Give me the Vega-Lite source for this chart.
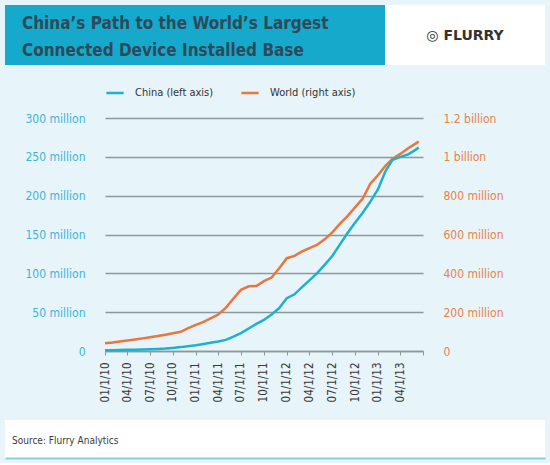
{
  "$schema": "https://vega.github.io/schema/vega-lite/v6.json",
  "background": "#e7f4f9",
  "padding": 5,
  "spacing": 18,
  "columns": 1,
  "resolve": {"legend": {"color": "independent"}},
  "config": {
    "font": "DejaVu Sans Condensed, Roboto, sans-serif",
    "view": {"stroke": null}
  },
  "concat": [
    {
      "spacing": 0,
      "hconcat": [
        {
          "width": 380,
          "height": 60,
          "view": {"fill": "#17a9cb", "stroke": null},
          "title": {
            "text": ["China’s Path to the World’s Largest", "Connected Device Installed Base"],
            "anchor": "start",
            "frame": "group",
            "orient": "top",
            "offset": -55,
            "dx": 17,
            "fontSize": 17,
            "lineHeight": 27,
            "fontWeight": "bold",
            "color": "#2c4a5a"
          },
          "data": {"values": []},
          "mark": "rule",
          "encoding": {}
        },
        {
          "width": 160,
          "height": 60,
          "view": {"fill": "#ffffff", "stroke": null},
          "title": {
            "text": "◎ FLURRY",
            "anchor": "middle",
            "frame": "group",
            "orient": "top",
            "offset": -38,
            "font": "DejaVu Sans",
            "fontSize": 14,
            "fontWeight": "bold",
            "color": "#333333"
          },
          "data": {"values": []},
          "mark": "rule",
          "encoding": {}
        }
      ]
    },
    {
      "spacing": 0,
      "resolve": {"legend": {"color": "independent"}},
      "hconcat": [
        {
          "width": 1,
          "height": 1,
          "data": {"values": []},
          "mark": "rule",
          "encoding": {}
        },
        {
          "width": 318,
          "height": 233,
          "data": {
            "values": [
              {"date": "2010-01-01", "series": "China (left axis)", "value": 1.0},
              {"date": "2010-02-01", "series": "China (left axis)", "value": 1.1},
              {"date": "2010-03-01", "series": "China (left axis)", "value": 1.3},
              {"date": "2010-04-01", "series": "China (left axis)", "value": 1.5},
              {"date": "2010-05-01", "series": "China (left axis)", "value": 1.7},
              {"date": "2010-06-01", "series": "China (left axis)", "value": 1.8},
              {"date": "2010-07-01", "series": "China (left axis)", "value": 2.1},
              {"date": "2010-08-01", "series": "China (left axis)", "value": 2.6},
              {"date": "2010-09-01", "series": "China (left axis)", "value": 3.2},
              {"date": "2010-10-01", "series": "China (left axis)", "value": 4.0},
              {"date": "2010-11-01", "series": "China (left axis)", "value": 5.0},
              {"date": "2010-12-01", "series": "China (left axis)", "value": 6.2},
              {"date": "2011-01-01", "series": "China (left axis)", "value": 7.4},
              {"date": "2011-02-01", "series": "China (left axis)", "value": 9.0},
              {"date": "2011-03-01", "series": "China (left axis)", "value": 10.6},
              {"date": "2011-04-01", "series": "China (left axis)", "value": 12.3},
              {"date": "2011-05-01", "series": "China (left axis)", "value": 14.3},
              {"date": "2011-06-01", "series": "China (left axis)", "value": 18.5},
              {"date": "2011-07-01", "series": "China (left axis)", "value": 23},
              {"date": "2011-08-01", "series": "China (left axis)", "value": 29},
              {"date": "2011-09-01", "series": "China (left axis)", "value": 35},
              {"date": "2011-10-01", "series": "China (left axis)", "value": 40},
              {"date": "2011-11-01", "series": "China (left axis)", "value": 47},
              {"date": "2011-12-01", "series": "China (left axis)", "value": 55},
              {"date": "2012-01-01", "series": "China (left axis)", "value": 68},
              {"date": "2012-02-01", "series": "China (left axis)", "value": 73},
              {"date": "2012-03-01", "series": "China (left axis)", "value": 82},
              {"date": "2012-04-01", "series": "China (left axis)", "value": 91},
              {"date": "2012-05-01", "series": "China (left axis)", "value": 100},
              {"date": "2012-06-01", "series": "China (left axis)", "value": 111},
              {"date": "2012-07-01", "series": "China (left axis)", "value": 122},
              {"date": "2012-08-01", "series": "China (left axis)", "value": 137},
              {"date": "2012-09-01", "series": "China (left axis)", "value": 152},
              {"date": "2012-10-01", "series": "China (left axis)", "value": 165},
              {"date": "2012-11-01", "series": "China (left axis)", "value": 178},
              {"date": "2012-12-01", "series": "China (left axis)", "value": 192},
              {"date": "2013-01-01", "series": "China (left axis)", "value": 208},
              {"date": "2013-02-01", "series": "China (left axis)", "value": 232},
              {"date": "2013-03-01", "series": "China (left axis)", "value": 246},
              {"date": "2013-04-01", "series": "China (left axis)", "value": 250},
              {"date": "2013-05-01", "series": "China (left axis)", "value": 253},
              {"date": "2013-06-01", "series": "China (left axis)", "value": 259},
              {"date": "2013-06-14", "series": "China (left axis)", "value": 262},
              {"date": "2010-01-01", "series": "World (right axis)", "value": 40},
              {"date": "2010-02-01", "series": "World (right axis)", "value": 44},
              {"date": "2010-03-01", "series": "World (right axis)", "value": 49},
              {"date": "2010-04-01", "series": "World (right axis)", "value": 54},
              {"date": "2010-05-01", "series": "World (right axis)", "value": 59},
              {"date": "2010-06-01", "series": "World (right axis)", "value": 65},
              {"date": "2010-07-01", "series": "World (right axis)", "value": 71},
              {"date": "2010-08-01", "series": "World (right axis)", "value": 77},
              {"date": "2010-09-01", "series": "World (right axis)", "value": 84},
              {"date": "2010-10-01", "series": "World (right axis)", "value": 91},
              {"date": "2010-11-01", "series": "World (right axis)", "value": 99},
              {"date": "2010-12-01", "series": "World (right axis)", "value": 118},
              {"date": "2011-01-01", "series": "World (right axis)", "value": 135},
              {"date": "2011-02-01", "series": "World (right axis)", "value": 150},
              {"date": "2011-03-01", "series": "World (right axis)", "value": 168},
              {"date": "2011-04-01", "series": "World (right axis)", "value": 188},
              {"date": "2011-05-01", "series": "World (right axis)", "value": 222},
              {"date": "2011-06-01", "series": "World (right axis)", "value": 270},
              {"date": "2011-07-01", "series": "World (right axis)", "value": 315},
              {"date": "2011-08-01", "series": "World (right axis)", "value": 333},
              {"date": "2011-09-01", "series": "World (right axis)", "value": 335},
              {"date": "2011-10-01", "series": "World (right axis)", "value": 360},
              {"date": "2011-11-01", "series": "World (right axis)", "value": 378},
              {"date": "2011-12-01", "series": "World (right axis)", "value": 425},
              {"date": "2012-01-01", "series": "World (right axis)", "value": 478},
              {"date": "2012-02-01", "series": "World (right axis)", "value": 490},
              {"date": "2012-03-01", "series": "World (right axis)", "value": 512},
              {"date": "2012-04-01", "series": "World (right axis)", "value": 530},
              {"date": "2012-05-01", "series": "World (right axis)", "value": 546},
              {"date": "2012-06-01", "series": "World (right axis)", "value": 575},
              {"date": "2012-07-01", "series": "World (right axis)", "value": 610},
              {"date": "2012-08-01", "series": "World (right axis)", "value": 655},
              {"date": "2012-09-01", "series": "World (right axis)", "value": 695},
              {"date": "2012-10-01", "series": "World (right axis)", "value": 740},
              {"date": "2012-11-01", "series": "World (right axis)", "value": 785},
              {"date": "2012-12-01", "series": "World (right axis)", "value": 860},
              {"date": "2013-01-01", "series": "World (right axis)", "value": 905},
              {"date": "2013-02-01", "series": "World (right axis)", "value": 955},
              {"date": "2013-03-01", "series": "World (right axis)", "value": 990},
              {"date": "2013-04-01", "series": "World (right axis)", "value": 1015},
              {"date": "2013-05-01", "series": "World (right axis)", "value": 1043},
              {"date": "2013-06-01", "series": "World (right axis)", "value": 1068},
              {"date": "2013-06-14", "series": "World (right axis)", "value": 1078}
            ]
          },
          "encoding": {
            "x": {
              "field": "date",
              "type": "temporal",
              "title": null,
              "scale": {
                "type": "utc",
                "domain": [
                  {"year": 2010, "month": 1, "date": 1, "utc": true},
                  {"year": 2013, "month": 7, "date": 1, "utc": true}
                ]
              },
              "axis": {
                "tickCount": {"interval": "month", "step": 3},
                "format": "%m/%-d/%y",
                "labelExpr": "utcyear(datum.value) == 2013 && utcmonth(datum.value) == 6 ? '' : datum.label",
                "labelAngle": -90,
                "labelPadding": 7,
                "labelFontSize": 11.5,
                "labelColor": "#3a3a3a",
                "labelFlush": false,
                "labelOverlap": false,
                "domainColor": "#8c989c",
                "domainWidth": 1.5,
                "tickColor": "#8c989c",
                "tickSize": 4,
                "grid": false,
                "minExtent": 46,
                "maxExtent": 46
              }
            },
            "color": {
              "field": "series",
              "type": "nominal",
              "scale": {
                "domain": ["China (left axis)", "World (right axis)"],
                "range": ["#1fb1cc", "#e8763d"]
              },
              "legend": {
                "orient": "top",
                "title": null,
                "symbolType": "stroke",
                "symbolStrokeWidth": 2.5,
                "symbolSize": 300,
                "labelFontSize": 11,
                "labelColor": "#333333",
                "labelOffset": 10,
                "columnPadding": 22,
                "offset": 20
              }
            }
          },
          "layer": [
            {
              "transform": [{"filter": "datum.series == 'World (right axis)'"}],
              "mark": {"type": "line", "strokeWidth": 2.5},
              "encoding": {
                "y": {
                  "field": "value",
                  "type": "quantitative",
                  "title": null,
                  "scale": {"domain": [0, 1200]},
                  "axis": {
                    "orient": "right",
                    "values": [0, 200, 400, 600, 800, 1000, 1200],
                    "labelExpr": "datum.value == 0 ? '0' : datum.value >= 1000 ? (datum.value / 1000) + ' billion' : datum.value + ' million'",
                    "labelColor": "#e9824a",
                    "labelFontSize": 12,
                    "labelPadding": 20,
                    "ticks": false,
                    "domain": false,
                    "grid": false
                  }
                }
              }
            },
            {
              "transform": [{"filter": "datum.series == 'China (left axis)'"}],
              "mark": {"type": "line", "strokeWidth": 2.5},
              "encoding": {
                "y": {
                  "field": "value",
                  "type": "quantitative",
                  "title": null,
                  "scale": {"domain": [0, 300]},
                  "axis": {
                    "orient": "left",
                    "values": [0, 50, 100, 150, 200, 250, 300],
                    "labelExpr": "datum.value == 0 ? '0' : datum.value + ' million'",
                    "labelColor": "#3db5d6",
                    "labelFontSize": 12,
                    "labelPadding": 20,
                    "ticks": false,
                    "domain": false,
                    "grid": true,
                    "gridColor": "#8c989c",
                    "gridWidth": 1.5,
                    "minExtent": 99,
                    "maxExtent": 99
                  }
                }
              }
            }
          ],
          "resolve": {"scale": {"y": "independent"}}
        }
      ]
    },
    {
      "width": 540,
      "height": 38,
      "view": {"fill": "#ffffff", "stroke": null},
      "title": {
        "text": "Source: Flurry Analytics",
        "anchor": "start",
        "frame": "group",
        "orient": "top",
        "offset": -26,
        "dx": 7,
        "fontSize": 10,
        "fontWeight": "normal",
        "color": "#3a3a3a"
      },
      "data": {"values": []},
      "mark": "rule",
      "encoding": {
        "x": {
          "field": "v",
          "type": "quantitative",
          "scale": {"domain": [0, 1]},
          "axis": {
            "domainColor": "#86d0dc",
            "domainWidth": 2,
            "ticks": false,
            "labels": false,
            "grid": false,
            "title": null
          }
        }
      }
    }
  ]
}
